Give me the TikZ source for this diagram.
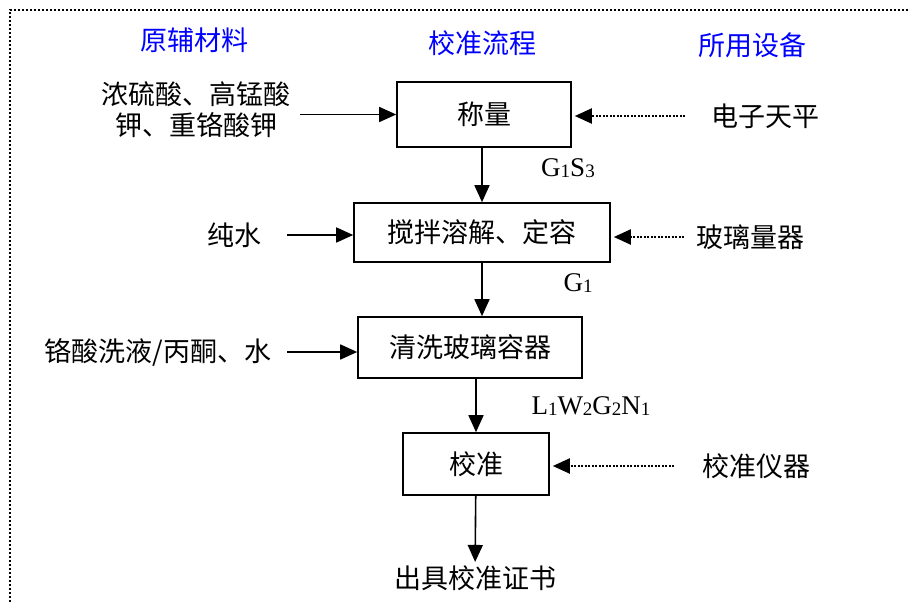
\documentclass[tikz,border=0pt]{standalone}
\usepackage{fontspec}
\setmainfont{Liberation Serif}
\newfontfamily\cjk{Noto Sans CJK SC}
\usetikzlibrary{arrows.meta,positioning,calc}
\newcommand{\emsub}[1]{\raisebox{-1.5pt}{\fontsize{19}{19}\selectfont #1}}

\begin{document}
\begin{tikzpicture}[
    x=1pt, y=-1pt,
    every node/.style={font=\cjk\fontsize{27}{31}\selectfont},
    box/.style={rectangle, draw, line width=1.6pt, align=center},
    colhead/.style={text=blue},
    emission/.style={font=\fontsize{27}{31}\selectfont},
    arrow/.style={-{Triangle[length=17pt,width=15pt]}, line width=1.6pt},
    tool/.style={arrow, dash pattern=on 2pt off 1.5pt, line width=2pt, shorten >=3pt},
    border/.style={line width=2.5pt, dash pattern=on 2pt off 2pt}
]
    \useasboundingbox (0,0) rectangle (908,602);
    \draw[border] (10,602) -- (10,10) -- (908,10);

    % column headings
    \node[colhead] (matcol) at (194,40) {原辅材料};
    \node[colhead] (flowcol) at (482,43) {校准流程};
    \node[colhead] (devcol) at (752,45) {所用设备};

    % process steps
    \node[box, minimum width=174pt, minimum height=65pt] (weigh) at (484,114.5) {称量};
    \node[box, minimum width=256pt, minimum height=59pt] (dissolve) at (482,232.5) {搅拌溶解、定容};
    \node[box, minimum width=224pt, minimum height=61pt] (clean) at (470,347.5) {清洗玻璃容器};
    \node[box, minimum width=146pt, minimum height=62pt] (calib) at (476,464) {校准};
    \node (cert) at (475,578) {出具校准证书};

    % materials
    \node[align=center] (acid) at (196,110) {浓硫酸、高锰酸\\钾、重铬酸钾};
    \node[anchor=east] (water) at (265,235) {纯水};
    \node[anchor=east] (chromic) at (275,352) {铬酸洗液/丙酮、水};

    % equipment
    \node[anchor=west] (balance) at (708,116) {电子天平};
    \node[anchor=west] (glass) at (693,237) {玻璃量器};
    \node[anchor=west] (instr) at (699,466) {校准仪器};

    % emissions
    \node[emission] (gs) at (568,168) {G\emsub{1}S\emsub{3}};
    \node[emission] (g) at (578,283) {G\emsub{1}};
    \node[emission] (lwgn) at (591,406) {L\emsub{1}W\emsub{2}G\emsub{2}N\emsub{1}};

    \draw[arrow] (weigh.south -| dissolve) -- (dissolve.north);
    \draw[arrow] (dissolve.south) -- (dissolve.south |- clean.north);
    \draw[arrow] (clean.south -| calib) -- (calib.north);
    \draw[arrow] (calib) -- (cert);

    \draw[arrow, shorten <=6pt] (acid.east |- weigh) -- (weigh.west);
    \draw[arrow, shorten <=22pt] (water.east) -- (water.east -| dissolve.west);
    \draw[arrow, shorten <=12pt] (chromic.east) -- (chromic.east -| clean.west);

    \draw[tool, shorten <=23pt] (balance.west) -- (balance.west -| weigh.east);
    \draw[tool, shorten <=9pt] (glass.west) -- (glass.west -| dissolve.east);
    \draw[tool, shorten <=25pt] (instr.west) -- (instr.west -| calib.east);
\end{tikzpicture}
\end{document}
